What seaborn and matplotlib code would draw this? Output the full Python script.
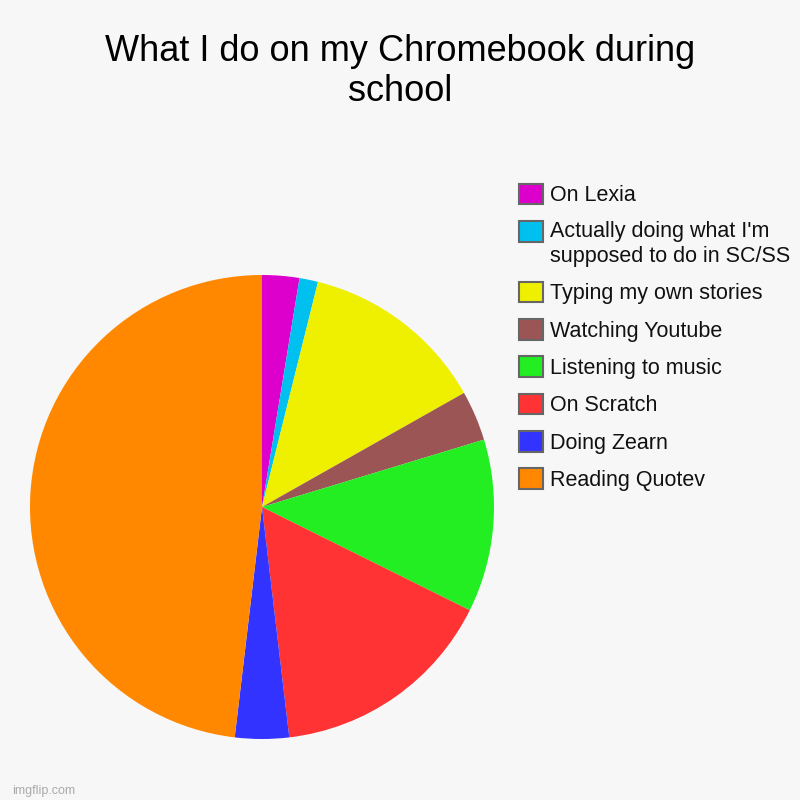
import matplotlib.pyplot as plt
import seaborn as sns

labels = ['On Lexia', "Actually doing what I'm\nsupposed to do in SC/SS", 'Typing my own stories',
          'Watching Youtube', 'Listening to music', 'On Scratch', 'Doing Zearn', 'Reading Quotev']
values = [2, 1, 10, 2.7, 9.3, 12.2, 2.9, 37.2]
colors = ['#dd00cc', '#00c0f0', '#eef000', '#9b5555', '#22ee22', '#ff3333', '#3333ff', '#ff8800']

sns.set_theme(style='white')
plt.rcParams['font.family'] = ['Liberation Sans', 'DejaVu Sans']

bg = '#f7f7f7'
fig = plt.figure(figsize=(8, 8), dpi=100, facecolor=bg)
ax = fig.add_axes([0.0375, 0.07625, 0.58, 0.58])
ax.set_facecolor(bg)

wedges, _ = ax.pie(values, colors=colors, startangle=90, counterclock=False,
                   wedgeprops=dict(linewidth=0))
ax.set_xlim(-1, 1)
ax.set_ylim(-1, 1)
ax.set_aspect('equal')

fig.suptitle('What I do on my Chromebook during\nschool', y=0.958, fontsize=26,
             linespacing=1.2, color='black')

leg = fig.legend(wedges, labels, loc='upper left', bbox_to_anchor=(0.638, 0.781),
                 frameon=False, fontsize=15.5, handlelength=1.1, handleheight=1.1,
                 handletextpad=0.32, labelspacing=0.68, borderaxespad=0)
for h in leg.legend_handles:
    h.set_edgecolor('#666666')
    h.set_linewidth(1.5)
for t in leg.get_texts():
    t.set_color('#111111')
    t.set_linespacing(1.25)
# put the box of the two-line entry next to its first line
two_line = leg.legend_handles[1]
two_line.set_y(two_line.get_y() + 9.5)

fig.text(0.015, 0.008, 'imgflip.com', color='#aaaaaa', fontsize=9)

fig.savefig('out.png', facecolor=bg)
